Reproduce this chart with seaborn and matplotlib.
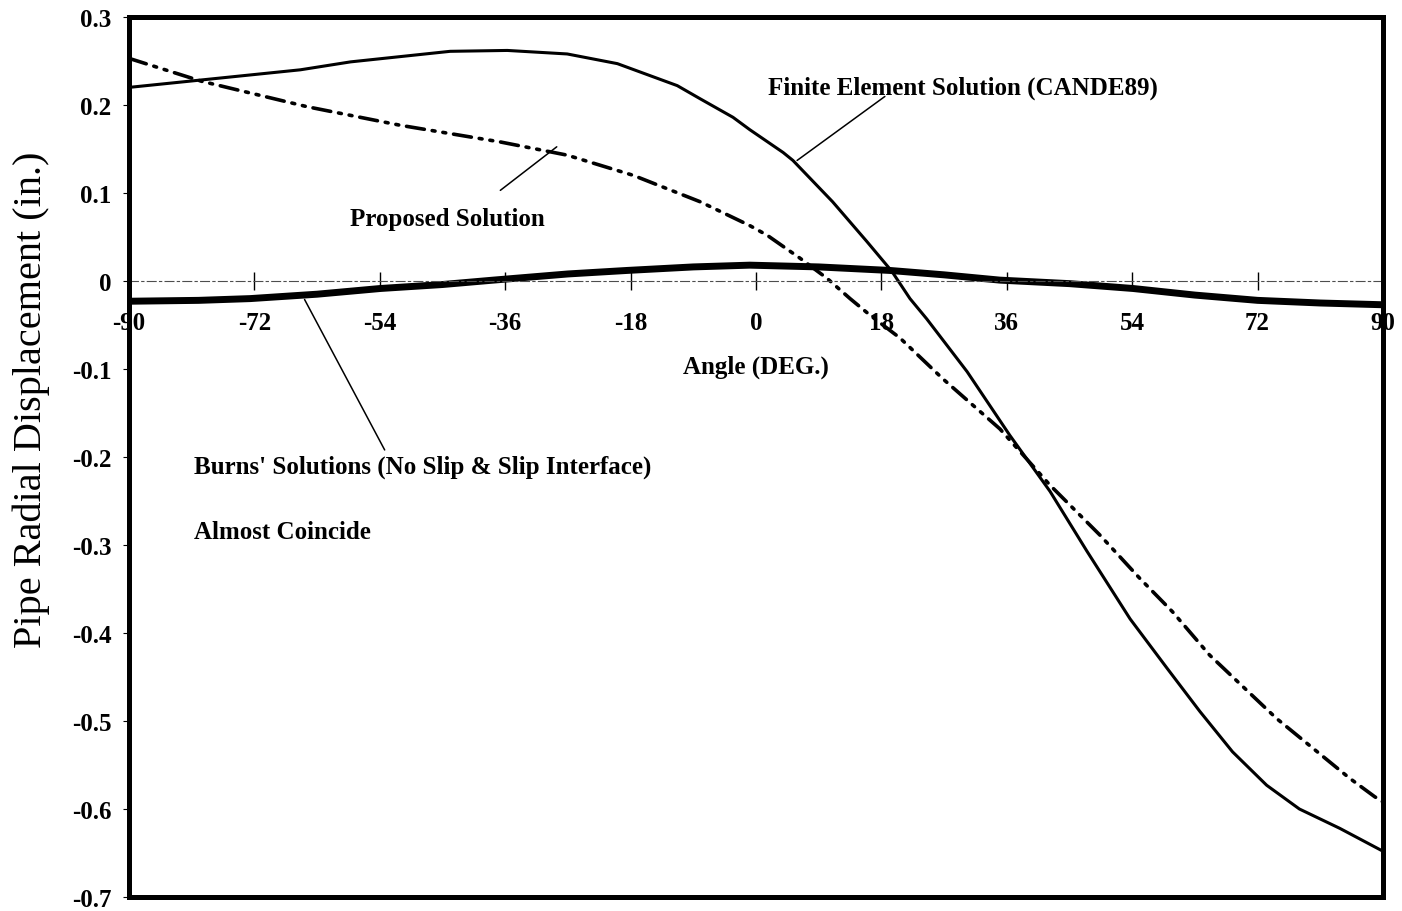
import matplotlib
matplotlib.use("Agg")
import matplotlib.pyplot as plt
import seaborn as sns
from matplotlib.patches import Rectangle

# Pipe radial displacement (in.) versus angle (deg.)
angle_fe = [-90, -65.4, -58.2, -43.9, -35.7, -27.1, -19.9, -11.3, -8.0, -3.3, -0.9,
            3.9, 5.3, 11.0, 15.9, 19.5, 22.1, 24.5, 30.3, 36.4, 42.2, 47.5, 53.7,
            59.0, 63.7, 68.4, 73.3, 78.0, 83.8, 90]
disp_fe = [0.220, 0.240, 0.249, 0.261, 0.262, 0.258, 0.247, 0.222, 0.207, 0.186, 0.172,
           0.146, 0.137, 0.090, 0.045, 0.011, -0.020, -0.043, -0.103, -0.175, -0.239, -0.307, -0.384,
           -0.440, -0.489, -0.535, -0.573, -0.600, -0.622, -0.648]

angle_prop = [-90, -79.6, -64.4, -51.1, -36.7, -27.1, -17.6, -8.0, -0.9, 1.6, 6.3, 10.2,
              13.5, 16.4, 20.7, 26.8, 35.0, 42.2, 49.4, 55.1, 59.8, 65.1, 74.7, 85.2, 88.8, 90]
disp_prop = [0.253, 0.227, 0.198, 0.177, 0.158, 0.143, 0.120, 0.090, 0.063, 0.052, 0.026, 0.003,
             -0.020, -0.039, -0.065, -0.111, -0.168, -0.232, -0.289, -0.338, -0.376, -0.425, -0.497,
             -0.565, -0.586, -0.592]

angle_burns = [-90, -80, -72.6, -63, -53.9, -45, -37.7, -27, -18.5, -9, -0.9, 9, 19.2,
               27, 35, 45, 54.1, 63, 72, 81, 90]
disp_burns = [-0.023, -0.022, -0.020, -0.015, -0.0085, -0.004, 0.001, 0.008, 0.012, 0.016, 0.018,
              0.016, 0.012, 0.007, 0.001, -0.003, -0.0085, -0.016, -0.022, -0.025, -0.027]

x_ticks = [-90, -72, -54, -36, -18, 0, 18, 36, 54, 72, 90]
x_tick_labels = ["-90", "-72", "-54", "-36", "-18", "0", "18", "36", "54", "72", "90"]
y_ticks = [0.3, 0.2, 0.1, 0.0, -0.1, -0.2, -0.3, -0.4, -0.5, -0.6, -0.7]
y_tick_labels = ["0.3", "0.2", "0.1", "0", "-0.1", "-0.2", "-0.3", "-0.4", "-0.5", "-0.6", "-0.7"]

sns.set_theme(style="white")
plt.rcParams["font.family"] = ["Liberation Serif", "DejaVu Serif"]
plt.rcParams["axes.unicode_minus"] = False

fig = plt.figure(figsize=(14.02, 9.12), dpi=100)
ax = fig.add_axes([129 / 1402, 14 / 912, 1254 / 1402, 880 / 912])

# Burns' solutions (thick), finite element (thin solid), proposed (dash-dot-dot)
sns.lineplot(x=angle_burns, y=disp_burns, ax=ax, color="black", linewidth=5.0,
             sort=False, estimator=None)
sns.lineplot(x=angle_fe, y=disp_fe, ax=ax, color="black", linewidth=2.2,
             sort=False, estimator=None)
sns.lineplot(x=angle_prop, y=disp_prop, ax=ax, color="black", linewidth=2.6,
             sort=False, estimator=None)
ax.lines[-1].set_dashes([5, 2.2, 0.8, 2.2, 0.8, 2.2])
ax.lines[-1].set_dash_capstyle("round")

ax.set_xlim(-90, 90)
ax.set_ylim(-0.7, 0.3)

# Angle axis drawn along zero displacement, heavy box around the plot
for side in ["left", "right", "top"]:
    ax.spines[side].set_visible(False)
ax.spines["bottom"].set_position(("data", 0))
ax.spines["bottom"].set_linestyle((0, (8, 3, 2, 3)))
ax.spines["bottom"].set_linewidth(0.8)
ax.spines["bottom"].set_color("0.3")
ax.add_patch(Rectangle((0, 0), 1, 1, transform=ax.transAxes, fill=False,
                       edgecolor="black", linewidth=3.6, clip_on=False, zorder=5))

ax.set_xticks(x_ticks)
ax.set_xticklabels(x_tick_labels)
ax.set_yticks(y_ticks)
ax.set_yticklabels(y_tick_labels)
ax.tick_params(axis="x", direction="inout", length=13, width=1.0, color="black",
               pad=15, labelsize=18, labelcolor="black", bottom=True)
ax.tick_params(axis="y", direction="out", length=4.5, width=0.8, color="black",
               pad=8, labelsize=18, labelcolor="black", left=True)
for lab in ax.get_xticklabels() + ax.get_yticklabels():
    lab.set_fontweight("bold")

ax.set_xlabel("Angle (DEG.)", fontsize=18, fontweight="bold", color="black", labelpad=15)
ax.set_ylabel("Pipe Radial Displacement (in.)", fontsize=29, color="black")
ax.yaxis.set_label_coords(-0.063, 0.566)

txt = dict(fontsize=18, fontweight="bold", color="black")
line = dict(arrowstyle="-", color="black", lw=1.1, shrinkA=0, shrinkB=0)

ax.text(1.7, 0.213, "Finite Element Solution (CANDE89)", ha="left", va="baseline", **txt)
ax.annotate("", xy=(5.9, 0.137), xytext=(18.5, 0.2097), arrowprops=line)

ax.text(-58.3, 0.064, "Proposed Solution", ha="left", va="baseline", **txt)
ax.annotate("", xy=(-28.6, 0.1525), xytext=(-36.7, 0.103), arrowprops=line)

ax.text(-80.6, -0.2176, "Burns' Solutions (No Slip & Slip Interface)",
        ha="left", va="baseline", **txt)
ax.text(-80.6, -0.2926, "Almost Coincide", ha="left", va="baseline", **txt)
ax.annotate("", xy=(-64.8, -0.021), xytext=(-53.3, -0.192), arrowprops=line)

fig.savefig("out.png", dpi=100, facecolor="white")
